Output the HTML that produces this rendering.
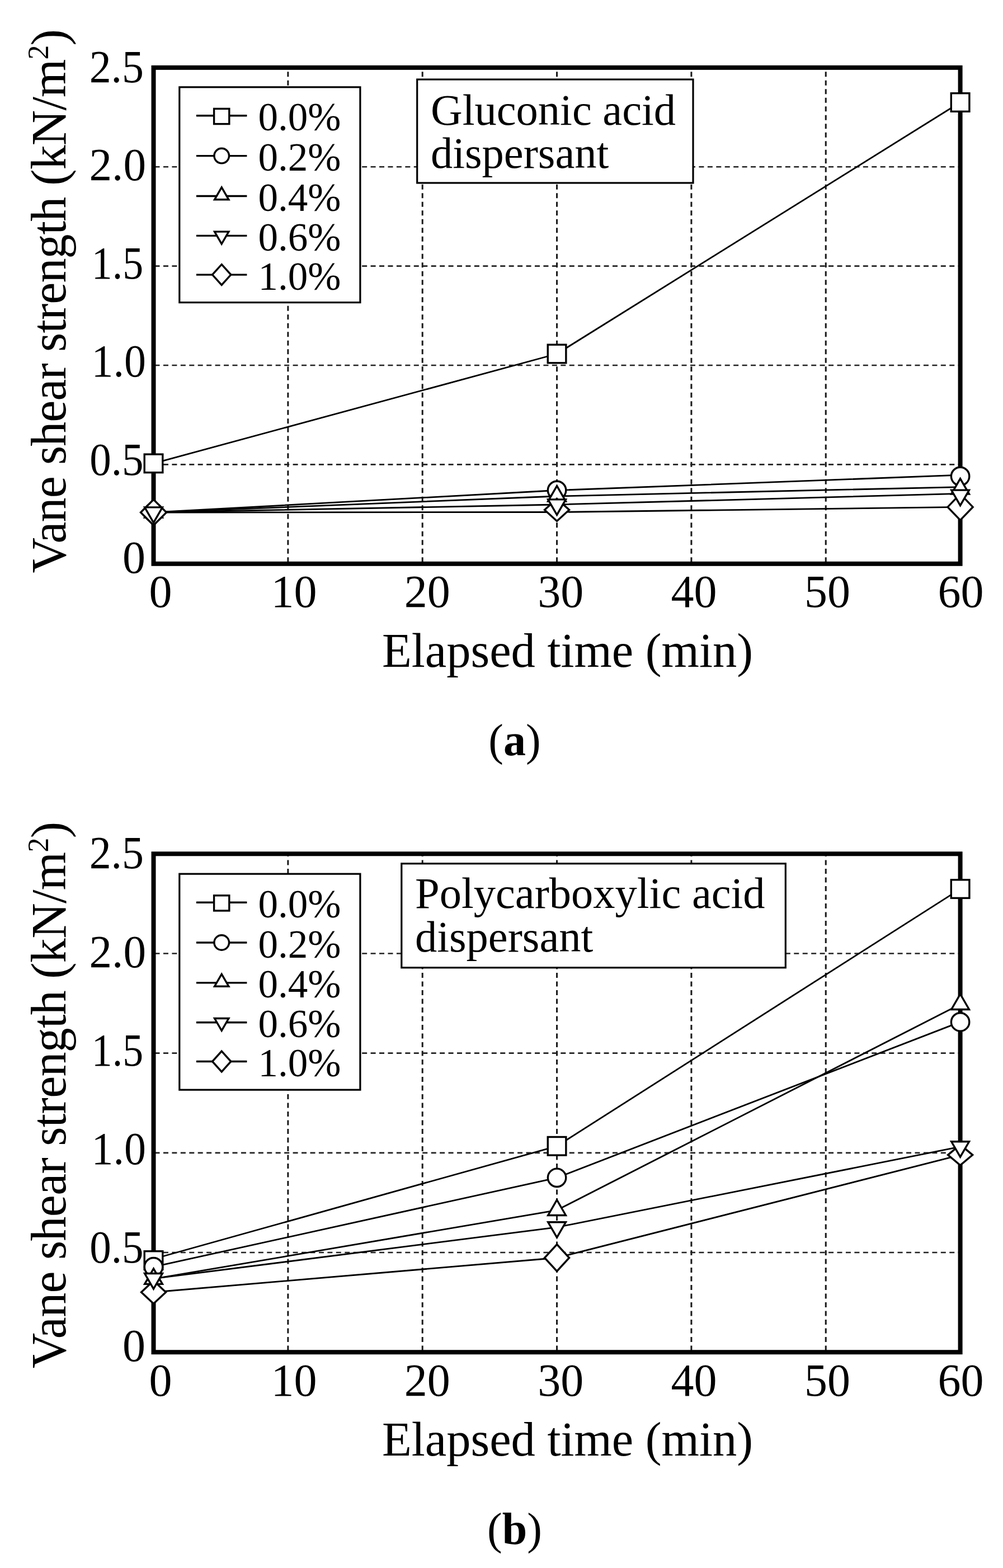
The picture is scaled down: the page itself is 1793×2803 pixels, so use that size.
<!DOCTYPE html>
<html><head><meta charset="utf-8"><title>Vane shear strength</title>
<style>html,body{margin:0;padding:0;background:#fff;}svg{display:block;}</style>
</head><body>
<svg width="1793" height="2803" viewBox="0 0 1793 2803">
<rect width="100%" height="100%" fill="#fff"/>
<path d="M514.85 1007.8V120.85M755.2 1007.8V120.85M995.55 1007.8V120.85M1235.9 1007.8V120.85M1476.25 1007.8V120.85" fill="none" stroke="#1a1a1a" stroke-width="3" stroke-dasharray="9 6.5" stroke-dashoffset="-2.6"/>
<path d="M274.5 830.41H1716.6M274.5 653.02H1716.6M274.5 475.63H1716.6M274.5 298.24H1716.6" fill="none" stroke="#222" stroke-width="2.7" stroke-dasharray="9 6.443" stroke-dashoffset="-2"/>
<rect x="274.5" y="120.85" width="1442.1" height="886.95" fill="none" stroke="#000" stroke-width="8"/>
<rect x="320.8" y="155.8" width="323.1" height="384.9" fill="#fff" stroke="#000" stroke-width="3.2"/>
<rect x="745.7" y="142" width="493.3" height="185" fill="#fff" stroke="#000" stroke-width="3.2"/>
<text x="770" y="222.6" font-size="78.5" font-family='"Liberation Serif", "Times New Roman", serif'>Gluconic acid</text>
<text x="770" y="300" font-size="78.5" font-family='"Liberation Serif", "Times New Roman", serif'>dispersant</text>
<path d="M350.9 206.8H441.4" stroke="#000" stroke-width="3.4"/>
<rect x="382.6" y="194.4" width="27.2" height="27.2" fill="#fff" stroke="#000" stroke-width="3.4"/>
<text x="461.5" y="233.3" font-size="71" font-family='"Liberation Serif", "Times New Roman", serif'>0.0%</text>
<path d="M350.9 278.6H441.4" stroke="#000" stroke-width="3.4"/>
<circle cx="396.2" cy="278.6" r="13.3" fill="#fff" stroke="#000" stroke-width="3.4"/>
<text x="461.5" y="305.1" font-size="71" font-family='"Liberation Serif", "Times New Roman", serif'>0.2%</text>
<path d="M350.9 350.5H441.4" stroke="#000" stroke-width="3.4"/>
<polygon points="396.2,334.9 408.84,356.8 383.56,356.8" fill="#fff" stroke="#000" stroke-width="3.4" stroke-miterlimit="10"/>
<text x="461.5" y="377" font-size="71" font-family='"Liberation Serif", "Times New Roman", serif'>0.4%</text>
<path d="M350.9 421.4H441.4" stroke="#000" stroke-width="3.4"/>
<polygon points="396.2,436 408.84,414.1 383.56,414.1" fill="#fff" stroke="#000" stroke-width="3.4" stroke-miterlimit="10"/>
<text x="461.5" y="447.9" font-size="71" font-family='"Liberation Serif", "Times New Roman", serif'>0.6%</text>
<path d="M350.9 491.1H441.4" stroke="#000" stroke-width="3.4"/>
<polygon points="396.2,472.7 412.8,491.1 396.2,509.5 379.6,491.1" fill="#fff" stroke="#000" stroke-width="3.4" stroke-miterlimit="10"/>
<text x="461.5" y="517.6" font-size="71" font-family='"Liberation Serif", "Times New Roman", serif'>1.0%</text>
<polyline points="274.5,828.4 995.55,632.5 1716.6,183" fill="none" stroke="#000" stroke-width="2.8" stroke-linejoin="round"/>
<polyline points="274.5,916 995.55,876.5 1716.6,849.2" fill="none" stroke="#000" stroke-width="2.8" stroke-linejoin="round"/>
<polyline points="274.5,916 995.55,887 1716.6,870.6" fill="none" stroke="#000" stroke-width="2.8" stroke-linejoin="round"/>
<polyline points="274.5,916 995.55,902 1716.6,882.4" fill="none" stroke="#000" stroke-width="2.8" stroke-linejoin="round"/>
<polyline points="274.5,916 995.55,915.5 1716.6,906.4" fill="none" stroke="#000" stroke-width="2.8" stroke-linejoin="round"/>
<rect x="258.2" y="812.1" width="32.6" height="32.6" fill="#fff" stroke="#000" stroke-width="3.4"/>
<rect x="979.25" y="616.2" width="32.6" height="32.6" fill="#fff" stroke="#000" stroke-width="3.4"/>
<rect x="1700.3" y="166.7" width="32.6" height="32.6" fill="#fff" stroke="#000" stroke-width="3.4"/>
<circle cx="274.5" cy="916" r="16.2" fill="#fff" stroke="#000" stroke-width="3.4"/>
<circle cx="995.55" cy="876.5" r="16.2" fill="#fff" stroke="#000" stroke-width="3.4"/>
<circle cx="1716.6" cy="851.5" r="16.2" fill="#fff" stroke="#000" stroke-width="3.4"/>
<polygon points="274.5,897.7 290.35,925.15 258.65,925.15" fill="#fff" stroke="#000" stroke-width="3.4" stroke-miterlimit="10"/>
<polygon points="995.55,868.7 1011.4,896.15 979.7,896.15" fill="#fff" stroke="#000" stroke-width="3.4" stroke-miterlimit="10"/>
<polygon points="1716.6,855.6 1732.45,883.05 1700.75,883.05" fill="#fff" stroke="#000" stroke-width="3.4" stroke-miterlimit="10"/>
<polygon points="274.5,893 297.5,916 274.5,939 251.5,916" fill="#fff" stroke="#000" stroke-width="3.4" stroke-miterlimit="10"/>
<polygon points="995.55,891.4 1017.55,911.4 995.55,931.4 973.55,911.4" fill="#fff" stroke="#000" stroke-width="3.4" stroke-miterlimit="10"/>
<polygon points="1716.6,882.9 1739.1,906.4 1716.6,929.9 1694.1,906.4" fill="#fff" stroke="#000" stroke-width="3.4" stroke-miterlimit="10"/>
<polygon points="274.5,934.3 290.35,906.85 258.65,906.85" fill="#fff" stroke="#000" stroke-width="3.4" stroke-miterlimit="10"/>
<polygon points="995.55,920.3 1011.4,892.85 979.7,892.85" fill="#fff" stroke="#000" stroke-width="3.4" stroke-miterlimit="10"/>
<polygon points="1716.6,903.6 1732.45,876.15 1700.75,876.15" fill="#fff" stroke="#000" stroke-width="3.4" stroke-miterlimit="10"/>
<text transform="translate(239.5 1024) scale(1 1)" font-size="82" text-anchor="middle" font-family='"Liberation Serif", "Times New Roman", serif'>0</text>
<text transform="translate(208.42 848.56) scale(0.94 1)" font-size="82" text-anchor="middle" font-family='"Liberation Serif", "Times New Roman", serif'>0.5</text>
<text transform="translate(212.22 673.12) scale(0.95 1)" font-size="82" text-anchor="middle" font-family='"Liberation Serif", "Times New Roman", serif'>1.0</text>
<text transform="translate(209.96 497.68) scale(0.9 1)" font-size="82" text-anchor="middle" font-family='"Liberation Serif", "Times New Roman", serif'>1.5</text>
<text transform="translate(210.24 322.25) scale(0.99 1)" font-size="82" text-anchor="middle" font-family='"Liberation Serif", "Times New Roman", serif'>2.0</text>
<text transform="translate(208.33 146.81) scale(0.95 1)" font-size="82" text-anchor="middle" font-family='"Liberation Serif", "Times New Roman", serif'>2.5</text>
<text x="287" y="1085.1" font-size="82" text-anchor="middle" font-family='"Liberation Serif", "Times New Roman", serif'>0</text>
<text x="525.4" y="1085.1" font-size="82" text-anchor="middle" font-family='"Liberation Serif", "Times New Roman", serif'>10</text>
<text x="763.8" y="1085.1" font-size="82" text-anchor="middle" font-family='"Liberation Serif", "Times New Roman", serif'>20</text>
<text x="1002.2" y="1085.1" font-size="82" text-anchor="middle" font-family='"Liberation Serif", "Times New Roman", serif'>30</text>
<text x="1240.6" y="1085.1" font-size="82" text-anchor="middle" font-family='"Liberation Serif", "Times New Roman", serif'>40</text>
<text x="1479" y="1085.1" font-size="82" text-anchor="middle" font-family='"Liberation Serif", "Times New Roman", serif'>50</text>
<text x="1717.4" y="1085.1" font-size="82" text-anchor="middle" font-family='"Liberation Serif", "Times New Roman", serif'>60</text>
<text x="683" y="1192.1" font-size="86.5" font-family='"Liberation Serif", "Times New Roman", serif'>Elapsed time (min)</text>
<text transform="translate(116.5 1024.4) rotate(-90)" font-size="88" letter-spacing="-0.92" font-family='"Liberation Serif", "Times New Roman", serif'>Vane shear strength (kN/m<tspan dy="-31" font-size="52">2</tspan><tspan dy="31">)</tspan></text>
<text x="920" y="1350.4" font-size="80" text-anchor="middle" font-family='"Liberation Serif", "Times New Roman", serif'>(<tspan font-weight="bold">a</tspan>)</text>
<path d="M514.85 2417.2V1526.3M755.2 2417.2V1526.3M995.55 2417.2V1526.3M1235.9 2417.2V1526.3M1476.25 2417.2V1526.3" fill="none" stroke="#1a1a1a" stroke-width="3" stroke-dasharray="9 6.5" stroke-dashoffset="-2.6"/>
<path d="M274.5 2239.02H1716.6M274.5 2060.84H1716.6M274.5 1882.66H1716.6M274.5 1704.48H1716.6" fill="none" stroke="#222" stroke-width="2.7" stroke-dasharray="9 6.443" stroke-dashoffset="-2"/>
<rect x="274.5" y="1526.3" width="1442.1" height="890.9" fill="none" stroke="#000" stroke-width="8"/>
<rect x="320.8" y="1562.2" width="323.1" height="386" fill="#fff" stroke="#000" stroke-width="3.2"/>
<rect x="717.8" y="1543.8" width="686.5" height="186" fill="#fff" stroke="#000" stroke-width="3.2"/>
<text x="742" y="1623.3" font-size="78.5" font-family='"Liberation Serif", "Times New Roman", serif'>Polycarboxylic acid</text>
<text x="742" y="1700.6" font-size="78.5" font-family='"Liberation Serif", "Times New Roman", serif'>dispersant</text>
<path d="M350.9 1613.2H441.4" stroke="#000" stroke-width="3.4"/>
<rect x="382.6" y="1600.8" width="27.2" height="27.2" fill="#fff" stroke="#000" stroke-width="3.4"/>
<text x="461.5" y="1639.7" font-size="71" font-family='"Liberation Serif", "Times New Roman", serif'>0.0%</text>
<path d="M350.9 1685H441.4" stroke="#000" stroke-width="3.4"/>
<circle cx="396.2" cy="1685" r="13.3" fill="#fff" stroke="#000" stroke-width="3.4"/>
<text x="461.5" y="1711.5" font-size="71" font-family='"Liberation Serif", "Times New Roman", serif'>0.2%</text>
<path d="M350.9 1756.9H441.4" stroke="#000" stroke-width="3.4"/>
<polygon points="396.2,1741.3 408.84,1763.2 383.56,1763.2" fill="#fff" stroke="#000" stroke-width="3.4" stroke-miterlimit="10"/>
<text x="461.5" y="1783.4" font-size="71" font-family='"Liberation Serif", "Times New Roman", serif'>0.4%</text>
<path d="M350.9 1827.8H441.4" stroke="#000" stroke-width="3.4"/>
<polygon points="396.2,1842.4 408.84,1820.5 383.56,1820.5" fill="#fff" stroke="#000" stroke-width="3.4" stroke-miterlimit="10"/>
<text x="461.5" y="1854.3" font-size="71" font-family='"Liberation Serif", "Times New Roman", serif'>0.6%</text>
<path d="M350.9 1897.5H441.4" stroke="#000" stroke-width="3.4"/>
<polygon points="396.2,1879.1 412.8,1897.5 396.2,1915.9 379.6,1897.5" fill="#fff" stroke="#000" stroke-width="3.4" stroke-miterlimit="10"/>
<text x="461.5" y="1924" font-size="71" font-family='"Liberation Serif", "Times New Roman", serif'>1.0%</text>
<polyline points="274.5,2250.5 995.55,2048.8 1716.6,1589.1" fill="none" stroke="#000" stroke-width="2.8" stroke-linejoin="round"/>
<polyline points="274.5,2264.7 995.55,2105.3 1716.6,1826.9" fill="none" stroke="#000" stroke-width="2.8" stroke-linejoin="round"/>
<polyline points="274.5,2286.2 995.55,2163.3 1716.6,1795.3" fill="none" stroke="#000" stroke-width="2.8" stroke-linejoin="round"/>
<polyline points="274.5,2285.7 995.55,2193.9 1716.6,2049.9" fill="none" stroke="#000" stroke-width="2.8" stroke-linejoin="round"/>
<polyline points="274.5,2310 995.55,2248.5 1716.6,2064.6" fill="none" stroke="#000" stroke-width="2.8" stroke-linejoin="round"/>
<rect x="258.2" y="2236.7" width="32.6" height="32.6" fill="#fff" stroke="#000" stroke-width="3.4"/>
<rect x="979.25" y="2032.5" width="32.6" height="32.6" fill="#fff" stroke="#000" stroke-width="3.4"/>
<rect x="1700.3" y="1572.8" width="32.6" height="32.6" fill="#fff" stroke="#000" stroke-width="3.4"/>
<circle cx="274.5" cy="2264.7" r="16.2" fill="#fff" stroke="#000" stroke-width="3.4"/>
<circle cx="995.55" cy="2105.3" r="16.2" fill="#fff" stroke="#000" stroke-width="3.4"/>
<circle cx="1716.6" cy="1826.9" r="16.2" fill="#fff" stroke="#000" stroke-width="3.4"/>
<polygon points="274.5,2267.9 290.35,2295.35 258.65,2295.35" fill="#fff" stroke="#000" stroke-width="3.4" stroke-miterlimit="10"/>
<polygon points="995.55,2145 1011.4,2172.45 979.7,2172.45" fill="#fff" stroke="#000" stroke-width="3.4" stroke-miterlimit="10"/>
<polygon points="1716.6,1777 1732.45,1804.45 1700.75,1804.45" fill="#fff" stroke="#000" stroke-width="3.4" stroke-miterlimit="10"/>
<polygon points="274.5,2289.5 296.5,2310 274.5,2330.5 252.5,2310" fill="#fff" stroke="#000" stroke-width="3.4" stroke-miterlimit="10"/>
<polygon points="995.55,2224.5 1017.55,2248.5 995.55,2272.5 973.55,2248.5" fill="#fff" stroke="#000" stroke-width="3.4" stroke-miterlimit="10"/>
<polygon points="1716.6,2046.1 1738.6,2064.6 1716.6,2083.1 1694.6,2064.6" fill="#fff" stroke="#000" stroke-width="3.4" stroke-miterlimit="10"/>
<polygon points="274.5,2304 290.35,2276.55 258.65,2276.55" fill="#fff" stroke="#000" stroke-width="3.4" stroke-miterlimit="10"/>
<polygon points="995.55,2212.2 1011.4,2184.75 979.7,2184.75" fill="#fff" stroke="#000" stroke-width="3.4" stroke-miterlimit="10"/>
<polygon points="1716.6,2068.2 1732.45,2040.75 1700.75,2040.75" fill="#fff" stroke="#000" stroke-width="3.4" stroke-miterlimit="10"/>
<text transform="translate(239.5 2433.4) scale(1 1)" font-size="82" text-anchor="middle" font-family='"Liberation Serif", "Times New Roman", serif'>0</text>
<text transform="translate(208.42 2257.18) scale(0.94 1)" font-size="82" text-anchor="middle" font-family='"Liberation Serif", "Times New Roman", serif'>0.5</text>
<text transform="translate(212.22 2080.96) scale(0.95 1)" font-size="82" text-anchor="middle" font-family='"Liberation Serif", "Times New Roman", serif'>1.0</text>
<text transform="translate(209.96 1904.74) scale(0.9 1)" font-size="82" text-anchor="middle" font-family='"Liberation Serif", "Times New Roman", serif'>1.5</text>
<text transform="translate(210.24 1728.52) scale(0.99 1)" font-size="82" text-anchor="middle" font-family='"Liberation Serif", "Times New Roman", serif'>2.0</text>
<text transform="translate(208.33 1552.3) scale(0.95 1)" font-size="82" text-anchor="middle" font-family='"Liberation Serif", "Times New Roman", serif'>2.5</text>
<text x="287" y="2494.5" font-size="82" text-anchor="middle" font-family='"Liberation Serif", "Times New Roman", serif'>0</text>
<text x="525.4" y="2494.5" font-size="82" text-anchor="middle" font-family='"Liberation Serif", "Times New Roman", serif'>10</text>
<text x="763.8" y="2494.5" font-size="82" text-anchor="middle" font-family='"Liberation Serif", "Times New Roman", serif'>20</text>
<text x="1002.2" y="2494.5" font-size="82" text-anchor="middle" font-family='"Liberation Serif", "Times New Roman", serif'>30</text>
<text x="1240.6" y="2494.5" font-size="82" text-anchor="middle" font-family='"Liberation Serif", "Times New Roman", serif'>40</text>
<text x="1479" y="2494.5" font-size="82" text-anchor="middle" font-family='"Liberation Serif", "Times New Roman", serif'>50</text>
<text x="1717.4" y="2494.5" font-size="82" text-anchor="middle" font-family='"Liberation Serif", "Times New Roman", serif'>60</text>
<text x="683" y="2602.1" font-size="86.5" font-family='"Liberation Serif", "Times New Roman", serif'>Elapsed time (min)</text>
<text transform="translate(116.5 2446.2) rotate(-90)" font-size="88" letter-spacing="-0.73" font-family='"Liberation Serif", "Times New Roman", serif'>Vane shear strength (kN/m<tspan dy="-31" font-size="52">2</tspan><tspan dy="31">)</tspan></text>
<text x="920" y="2760.4" font-size="80" text-anchor="middle" font-family='"Liberation Serif", "Times New Roman", serif'>(<tspan font-weight="bold">b</tspan>)</text>
</svg>
</body></html>
